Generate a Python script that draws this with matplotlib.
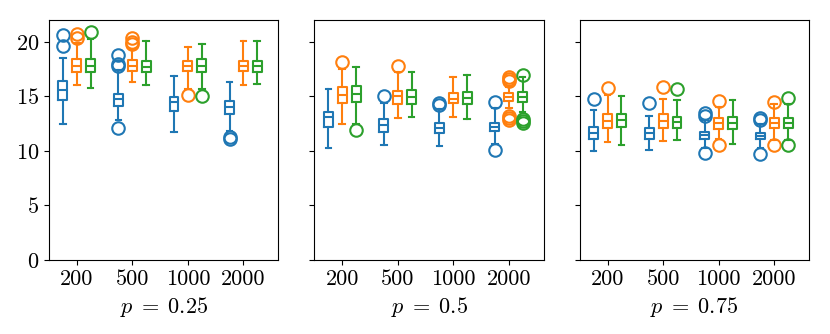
import matplotlib
matplotlib.use("Agg")
import matplotlib.pyplot as plt

plt.rcParams["font.family"] = "serif"
plt.rcParams["font.serif"] = ["cmr10"]
plt.rcParams["mathtext.fontset"] = "cm"
plt.rcParams["axes.formatter.use_mathtext"] = True
plt.rcParams["axes.unicode_minus"] = False
plt.rcParams["font.size"] = 16

N_LABELS = ["200", "500", "1000", "2000"]
P_LABELS = [r"$p\;=\;0.25$", r"$p\;=\;0.5$", r"$p\;=\;0.75$"]
COLORS = ["tab:blue", "tab:orange", "tab:green"]

# rows: n = 200, 500, 1000, 2000 ; columns: blue, orange, green
lo_25 = [[12.5, 16.0, 15.8], [12.8, 16.3, 16.0], [11.7, 15.7, 15.7], [11.8, 16.0, 16.1]]
q1_25 = [[14.7, 17.25, 17.23], [14.1, 17.3, 17.2], [13.65, 17.3, 17.25], [13.4, 17.3, 17.23]]
med_25 = [[15.55, 17.8, 17.78], [14.73, 17.8, 17.7], [14.48, 17.78, 17.8], [14.0, 17.8, 17.75]]
q3_25 = [[16.4, 18.4, 18.45], [15.2, 18.3, 18.23], [14.97, 18.23, 18.42], [14.57, 18.23, 18.23]]
hi_25 = [[18.5, 19.9, 20.3], [17.4, 19.3, 20.06], [16.86, 19.5, 19.82], [16.28, 20.06, 20.1]]
fl_25 = [[[20.6, 19.65], [20.68, 20.37], [20.9]],
         [[18.78, 18.0, 17.8, 12.13], [20.37, 20.0, 19.76], []],
         [[], [15.12], [15.0]],
         [[11.25, 11.1], [], []]]

lo_50 = [[10.25, 12.47, 12.5], [10.52, 13.02, 13.14], [10.48, 13.11, 12.95], [10.6, 13.9, 13.6]]
q1_50 = [[12.22, 14.42, 14.45], [11.74, 14.33, 14.27], [11.67, 14.36, 14.33], [11.8, 14.6, 14.5]]
med_50 = [[13.08, 15.12, 15.19], [12.38, 15.03, 14.91], [12.13, 14.79, 14.88], [12.22, 14.97, 14.95]]
q3_50 = [[13.57, 15.83, 15.95], [12.9, 15.52, 15.58], [12.53, 15.34, 15.37], [12.59, 15.3, 15.4]]
hi_50 = [[15.64, 17.5, 17.69], [14.4, 17.2, 17.23], [13.8, 16.74, 16.95], [13.9, 15.9, 16.74]]
fl_50 = [[[], [18.14], [11.95]],
         [[15.0], [17.75], []],
         [[14.36, 14.2], [], []],
         [[14.45, 10.12], [16.8, 16.6, 16.45, 13.2, 13.0, 12.85], [17.0, 12.9, 12.75, 12.6]]]

lo_75 = [[10.0, 10.82, 10.58], [10.06, 10.94, 10.98], [10.3, 11.1, 10.67], [10.3, 11.0, 11.0]]
q1_75 = [[11.07, 12.1, 12.2], [11.07, 12.07, 12.1], [11.07, 12.04, 12.04], [11.07, 12.1, 12.1]]
med_75 = [[11.67, 12.77, 12.81], [11.62, 12.74, 12.63], [11.44, 12.53, 12.56], [11.37, 12.56, 12.59]]
q3_75 = [[12.22, 13.38, 13.36], [12.1, 13.36, 13.14], [11.74, 13.02, 13.08], [11.67, 13.02, 13.05]]
hi_75 = [[13.75, 15.1, 15.03], [13.23, 14.73, 14.67], [12.8, 14.0, 14.64], [12.5, 14.3, 14.3]]
fl_75 = [[[14.79], [15.79], []],
         [[14.36], [15.83], [15.67]],
         [[13.45, 13.2, 9.79], [14.6, 10.52], []],
         [[12.99, 12.8, 9.75], [14.45, 10.58], [14.85, 10.55]]]

PANELS = [
    (lo_25, q1_25, med_25, q3_25, hi_25, fl_25),
    (lo_50, q1_50, med_50, q3_50, hi_50, fl_50),
    (lo_75, q1_75, med_75, q3_75, hi_75, fl_75),
]

fig, axes = plt.subplots(1, 3, figsize=(8.3, 3.34), dpi=100, sharey=True)
fig.subplots_adjust(left=0.059, right=0.975, bottom=0.222, top=0.94, wspace=0.157)

offsets = [-0.25, 0.0, 0.25]
for ax, panel, plabel in zip(axes, PANELS, P_LABELS):
    lo, q1, med, q3, hi, fl = panel
    for k, color in enumerate(COLORS):
        stats = []
        for i in range(len(N_LABELS)):
            stats.append(dict(whislo=lo[i][k], q1=q1[i][k], med=med[i][k],
                              q3=q3[i][k], whishi=hi[i][k], fliers=fl[i][k]))
        pos = [i + 1 + offsets[k] for i in range(len(N_LABELS))]
        lp = dict(color=color, linewidth=1.5)
        ax.bxp(stats, positions=pos, widths=0.16, capwidths=0.1,
               boxprops=lp, whiskerprops=lp, capprops=lp, medianprops=lp,
               flierprops=dict(marker="o", markersize=9, markerfacecolor="none",
                               markeredgecolor=color, markeredgewidth=1.5),
               manage_ticks=False)
    ax.set_xticks(range(1, 5))
    ax.set_xticklabels(N_LABELS)
    ax.set_xlim(0.5, 4.63)
    ax.set_xlabel(plabel, labelpad=4)

axes[0].set_ylim(0, 22)
axes[0].set_yticks([0, 5, 10, 15, 20])

fig.savefig("out.png", dpi=100)
